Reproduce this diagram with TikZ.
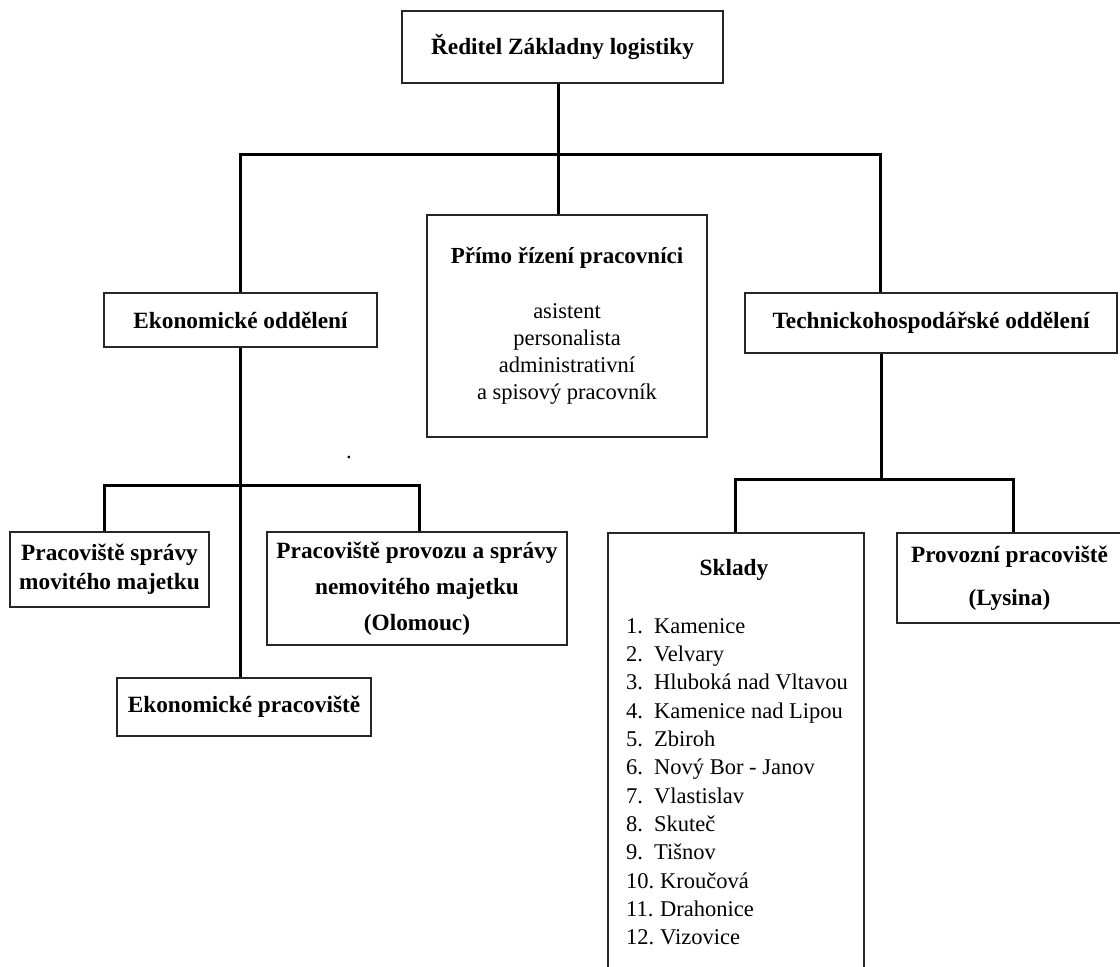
\documentclass[tikz,border=0pt]{standalone}
\usepackage{fontspec}
\setmainfont{Liberation Serif}
\begin{document}
\begin{tikzpicture}[x=1pt,y=-1pt,
  box/.style={draw=black!85, line width=1.2pt, inner sep=0pt, align=center,
    font=\bfseries\fontsize{23.3}{29}\selectfont},
  conn/.style={line width=3pt, black},
  item/.style={inner sep=0pt, anchor=base west, font=\fontsize{22.5}{27}\selectfont}]
\useasboundingbox (0,0) rectangle (1120,967);
\fill[white] (0,0) rectangle (1120,967);

% boxes
\node[box, minimum width=321pt, minimum height=72pt] (dir) at (562.5,47) {Ředitel Základny logistiky};
\node[box, minimum width=273pt, minimum height=54pt] (eko) at (240.5,320) {Ekonomické oddělení};
\node[box, minimum width=280pt, minimum height=222pt, font=\fontsize{22.5}{27}\selectfont] (primo) at (567,326)
  {{\bfseries\fontsize{23}{27}\selectfont Přímo řízení pracovníci}\\[28pt]asistent\\personalista\\administrativní\\a spisový pracovník};
\node[box, minimum width=372pt, minimum height=60pt] (tech) at (931,323) {Technickohospodářské oddělení};
\node[box, minimum width=199pt, minimum height=75pt] (mov) at (109.5,569.5) {Pracoviště správy\\movitého majetku};
\node[box, minimum width=300pt, minimum height=113pt, font=\bfseries\fontsize{23.3}{36}\selectfont] (nem) at (417,588.5)
  {Pracoviště provozu a správy\\nemovitého majetku\\(Olomouc)};
\node[box, minimum width=254pt, minimum height=58pt] (ekp) at (244,707) {Ekonomické pracoviště};
\node[box, minimum width=256pt, minimum height=447pt] (skl) at (736,756.5) {};
\node[box, minimum width=225pt, minimum height=90pt, font=\bfseries\fontsize{23.3}{43}\selectfont] (prov) at (1009.5,578)
  {Provozní pracoviště\\(Lysina)};

% Sklady content
\node[inner sep=0pt, font=\bfseries\fontsize{23.3}{27}\selectfont] (skltitle) at (734,570) {Sklady};
\foreach \n/\t/\xo [count=\i] in {1./Kamenice/654, 2./Velvary/654, 3./Hluboká nad Vltavou/654,
  4./Kamenice nad Lipou/654, 5./Zbiroh/654, 6./Nový Bor - Janov/654, 7./Vlastislav/654,
  8./Skuteč/654, 9./Tišnov/654, 10./Kroučová/660, 11./Drahonice/660, 12./Vizovice/660}{
  \node[item] (num\i) at (626,{633+(\i-1)*28.35}) {\n};
  \node[item] (name\i) at (\xo,{633+(\i-1)*28.35}) {\t};
}

% stray dot
\node[inner sep=0pt, anchor=base, font=\fontsize{22.5}{27}\selectfont] (dot) at (349,458) {.};

% junctions
\coordinate (jtop) at (558,154);
\coordinate (jeko) at (240,154);
\coordinate (jtech) at (880,154);
\coordinate (jeko2) at (240,485);
\coordinate (jmov) at (104,485);
\coordinate (jnem) at (419,485);
\coordinate (jtech2) at (881,479);
\coordinate (jskl) at (735,479);
\coordinate (jprov) at (1013,479);

% connectors
\draw[conn] (dir.south -| jtop) -- (primo.north -| jtop);
\draw[conn] (eko.north -| jeko) -- (jeko) -- (jtech) -- (tech.north -| jtech);
\draw[conn] (eko.south -| jeko2) -- (ekp.north -| jeko2);
\draw[conn] (mov.north -| jmov) -- (jmov) -- (jnem) -- (nem.north -| jnem);
\draw[conn] (tech.south -| jtech2) -- (jtech2);
\draw[conn] (skl.north -| jskl) -- (jskl) -- (jprov) -- (prov.north -| jprov);
\end{tikzpicture}
\end{document}
